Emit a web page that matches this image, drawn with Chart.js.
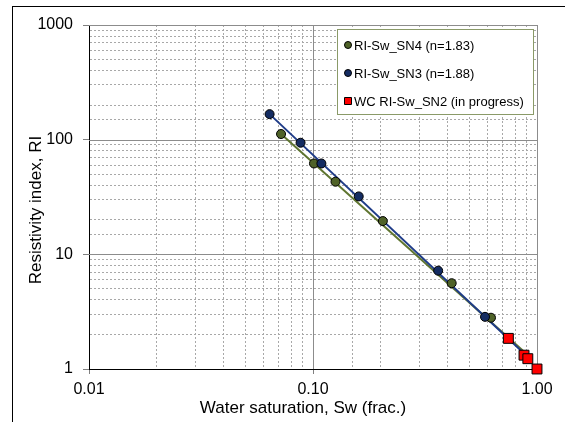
<!DOCTYPE html>
<html>
<head>
<meta charset="utf-8">
<script src="https://cdn.jsdelivr.net/npm/chart.js@4.4.1/dist/chart.umd.min.js"></script>
<style>
  html, body { margin: 0; padding: 0; background: #ffffff; }
  #graficaRI { display: block; background: #ffffff; }
</style>
</head>
<body>
<canvas id="graficaRI" width="565" height="422"></canvas>
<script>
/* DATOS */
// Sw (frac.) y RI de cada tapon
const swSN4 = [0.072, 0.101, 0.126, 0.205, 0.416, 0.623];
const riSN4 = [112, 62, 43, 19.5, 5.6, 2.8];

const swSN3 = [0.064, 0.088, 0.109, 0.160, 0.362, 0.586];
const riSN3 = [167, 94, 62, 32, 7.2, 2.85];

const swSN2 = [0.745, 0.875, 0.91, 1.0];
const riSN2 = [1.85, 1.32, 1.23, 1.0];

// extremos de las lineas de ajuste
const swAjusteSN4 = [0.072, 0.92];
const riAjusteSN4 = [112, 1.3];
const swAjusteSN3 = [0.064, 0.93];
const riAjusteSN3 = [167, 1.22];

const nombresSeries = ['RI-Sw_SN4 (n=1.83)', 'RI-Sw_SN3 (n=1.88)', 'WC RI-Sw_SN2 (in progress)'];

const ticksX = [0.01, 0.1, 1];
const etiquetasX = ['0.01', '0.10', '1.00'];
const ticksY = [1, 10, 100, 1000];
const etiquetasY = ['1', '10', '100', '1000'];

const tituloX = 'Water saturation, Sw (frac.)';
const tituloY = 'Resistivity index, RI';

const colores = {
  sn4: '#4f6228',
  sn3: '#142c62',
  sn2: '#ff0000',
  lineaSn4: '#5f7530',
  lineaSn3: '#1f3c88'
};

const fuente = "'Liberation Sans', Arial, sans-serif";

const puntos = (xs, ys) => xs.map((x, i) => ({ x: x, y: ys[i] }));

const buscarEtiqueta = (lista, etiquetas, valor) => {
  const i = lista.findIndex(t => Math.abs(t - valor) / t < 1e-6);
  return i >= 0 ? etiquetas[i] : '';
};

const esDecada = v => Math.abs(Math.log10(v) - Math.round(Math.log10(v))) < 1e-6;

/* PLUGINS */
// marco exterior del grafico
const marcoExterior = {
  id: 'marcoExterior',
  beforeDraw(chart) {
    const ctx = chart.ctx;
    ctx.save();
    ctx.strokeStyle = '#000000';
    ctx.lineWidth = 1;
    ctx.strokeRect(12.5, 6.5, 700, 600);
    ctx.restore();
  }
};

// lineas principales de la rejilla (decadas), continuas
const rejillaMayor = {
  id: 'rejillaMayor',
  beforeDatasetsDraw(chart) {
    const { ctx, chartArea, scales } = chart;
    ctx.save();
    ctx.strokeStyle = '#8c8c8c';
    ctx.lineWidth = 1;
    ctx.beginPath();
    ticksX.slice(1).forEach(v => {
      const px = Math.round(scales.x.getPixelForValue(v)) + 0.5;
      ctx.moveTo(px, chartArea.top);
      ctx.lineTo(px, chartArea.bottom);
    });
    ticksY.slice(1).forEach(v => {
      const py = Math.round(scales.y.getPixelForValue(v)) + 0.5;
      ctx.moveTo(chartArea.left, py);
      ctx.lineTo(chartArea.right, py);
    });
    ctx.stroke();
    ctx.restore();
  }
};

// titulos de los ejes
const titulosEjes = {
  id: 'titulosEjes',
  afterDraw(chart) {
    const ctx = chart.ctx;
    ctx.save();
    ctx.fillStyle = '#000000';
    ctx.font = '17px ' + fuente;
    ctx.textAlign = 'center';
    ctx.textBaseline = 'middle';
    ctx.fillText(tituloX, 303, 408);
    ctx.translate(36, 210);
    ctx.rotate(-Math.PI / 2);
    ctx.fillText(tituloY, 0, 0);
    ctx.restore();
  }
};

// leyenda dentro del area de trazado
const leyendaPropia = {
  id: 'leyendaPropia',
  afterDraw(chart) {
    const { ctx, chartArea } = chart;
    const x0 = chartArea.right - 200;
    const y0 = chartArea.top + 4;
    ctx.save();
    ctx.fillStyle = '#ffffff';
    ctx.fillRect(x0, y0, 196, 85);
    ctx.strokeStyle = '#8a9a68';
    ctx.lineWidth = 1;
    ctx.strokeRect(x0 + 0.5, y0 + 0.5, 196, 85);

    ctx.font = '13px ' + fuente;
    ctx.textBaseline = 'middle';
    ctx.textAlign = 'left';
    const estilos = [
      { tipo: 'circle', color: colores.sn4 },
      { tipo: 'circle', color: colores.sn3 },
      { tipo: 'rect', color: colores.sn2 }
    ];
    nombresSeries.forEach((nombre, i) => {
      const cy = y0 + 16 + i * 28;
      const cx = x0 + 11;
      ctx.fillStyle = estilos[i].color;
      ctx.strokeStyle = '#000000';
      ctx.lineWidth = 1;
      ctx.beginPath();
      if (estilos[i].tipo === 'circle') {
        ctx.arc(cx, cy, 3.5, 0, Math.PI * 2);
      } else {
        ctx.rect(cx - 3.5, cy - 3.5, 7, 7);
      }
      ctx.fill();
      ctx.stroke();
      ctx.fillStyle = '#000000';
      ctx.fillText(nombre, x0 + 17, cy + 1);
    });
    ctx.restore();
  }
};

/* GRAFICA */
const grafica = document.getElementById('graficaRI').getContext('2d');

new Chart(grafica, {
  type: 'scatter',
  data: {
    datasets: [
      {
        label: 'ajuste SN4',
        data: puntos(swAjusteSN4, riAjusteSN4),
        showLine: true,
        borderColor: colores.lineaSn4,
        borderWidth: 2,
        pointRadius: 0,
        order: 4
      },
      {
        label: 'ajuste SN3',
        data: puntos(swAjusteSN3, riAjusteSN3),
        showLine: true,
        borderColor: colores.lineaSn3,
        borderWidth: 2,
        pointRadius: 0,
        order: 3
      },
      {
        label: nombresSeries[0],
        data: puntos(swSN4, riSN4),
        backgroundColor: colores.sn4,
        borderColor: '#000000',
        borderWidth: 1,
        pointRadius: 4.5,
        order: 2
      },
      {
        label: nombresSeries[1],
        data: puntos(swSN3, riSN3),
        backgroundColor: colores.sn3,
        borderColor: '#000000',
        borderWidth: 1,
        pointRadius: 4.5,
        order: 1
      },
      {
        label: nombresSeries[2],
        data: puntos(swSN2, riSN2),
        pointStyle: 'rect',
        backgroundColor: colores.sn2,
        borderColor: '#000000',
        borderWidth: 1,
        pointRadius: 7,
        clip: false,
        order: 0
      }
    ]
  },
  options: {
    responsive: false,
    animation: false,
    layout: {
      padding: { left: 0, top: 25, right: 28, bottom: 0 }
    },
    plugins: {
      legend: { display: false },
      tooltip: { enabled: false }
    },
    scales: {
      x: {
        type: 'logarithmic',
        min: 0.01,
        max: 1,
        afterFit: function (scale) {
          scale.height = 53;
        },
        ticks: {
          autoSkip: false,
          maxRotation: 0,
          padding: 6,
          color: '#000000',
          font: { size: 16, family: fuente },
          callback: function (value) {
            return buscarEtiqueta(ticksX, etiquetasX, value);
          }
        },
        grid: {
          color: c => esDecada(c.tick.value) ? 'transparent' : '#a8a8a8',
          tickColor: c => esDecada(c.tick.value) ? '#808080' : 'transparent',
          tickLength: 5,
          lineWidth: 1
        },
        border: {
          color: '#000000',
          width: 1,
          dash: [2, 2]
        }
      },
      y: {
        type: 'logarithmic',
        min: 1,
        max: 1000,
        afterFit: function (scale) {
          scale.width = 89;
        },
        ticks: {
          autoSkip: false,
          padding: 10,
          color: '#000000',
          font: { size: 16, family: fuente },
          callback: function (value) {
            return buscarEtiqueta(ticksY, etiquetasY, value);
          }
        },
        grid: {
          color: c => esDecada(c.tick.value) ? 'transparent' : '#a8a8a8',
          tickColor: c => esDecada(c.tick.value) ? '#808080' : 'transparent',
          tickLength: 6,
          lineWidth: 1
        },
        border: {
          color: '#000000',
          width: 1,
          dash: [2, 2]
        }
      }
    }
  },
  plugins: [marcoExterior, rejillaMayor, titulosEjes, leyendaPropia]
});
</script>
</body>
</html>
